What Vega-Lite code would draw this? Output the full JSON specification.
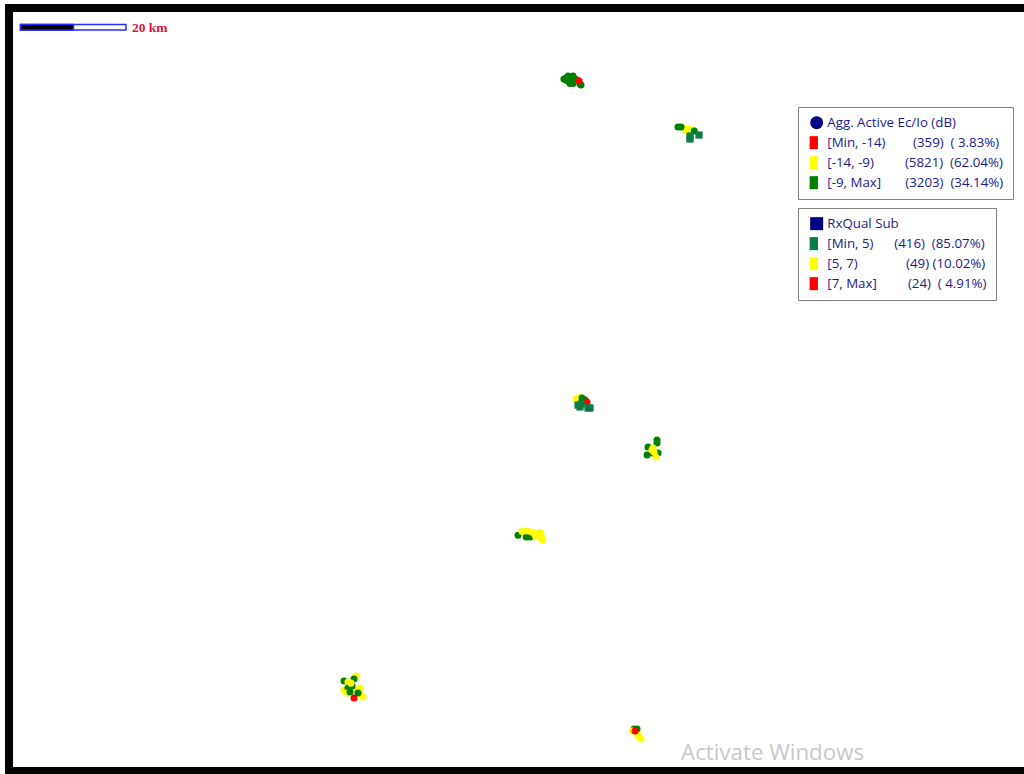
{
"$schema":"https://vega.github.io/schema/vega-lite/v6.json",
"width":1024,"height":774,"padding":0,
"autosize":{"type":"fit","contains":"padding"},
"background":"white",
"view":{"stroke":null},
"datasets":{
"ecio":[
{"x":106.4,"y":14.91,"c":"g"},{"x":106.79,"y":14.72,"c":"g"},{"x":107.36,"y":14.53,"c":"g"},{"x":107.92,"y":14.53,"c":"g"},{"x":108.49,"y":14.91,"c":"g"},{"x":107.17,"y":15.28,"c":"g"},{"x":107.74,"y":15.47,"c":"g"},{"x":108.11,"y":15.28,"c":"g"},{"x":106.79,"y":15.09,"c":"g"},{"x":108.87,"y":15.09,"c":"g"},{"x":107.55,"y":15.75,"c":"g"},{"x":108.11,"y":15.75,"c":"g"},{"x":107.17,"y":14.35,"c":"g"},{"x":108.11,"y":14.35,"c":"g"},{"x":109.43,"y":15.85,"c":"g"},{"x":109.62,"y":16.04,"c":"g"},{"x":109.25,"y":15.28,"c":"r"},
{"x":129.06,"y":24.15,"c":"y"},{"x":130.0,"y":24.34,"c":"y"},{"x":130.75,"y":24.53,"c":"y"},{"x":129.43,"y":24.72,"c":"y"},{"x":130.38,"y":24.91,"c":"y"},{"x":127.92,"y":23.96,"c":"g"},{"x":128.49,"y":23.96,"c":"g"},{"x":131.0,"y":24.72,"c":"g"},
{"x":108.68,"y":75.28,"c":"y"},{"x":109.43,"y":74.9,"c":"y"},{"x":109.81,"y":75.09,"c":"g"},{"x":110.38,"y":75.47,"c":"g"},{"x":110.75,"y":75.85,"c":"r"},
{"x":123.96,"y":83.02,"c":"g"},{"x":123.96,"y":83.58,"c":"g"},{"x":122.26,"y":84.34,"c":"g"},{"x":122.08,"y":85.85,"c":"g"},{"x":123.02,"y":85.47,"c":"g"},{"x":124.15,"y":85.47,"c":"g"},{"x":123.21,"y":84.53,"c":"y"},{"x":123.02,"y":84.91,"c":"y"},{"x":123.4,"y":85.3,"c":"y"},{"x":123.77,"y":86.23,"c":"y"},
{"x":97.74,"y":101.0,"c":"g"},{"x":99.3,"y":101.3,"c":"g"},{"x":100.0,"y":101.3,"c":"g"},{"x":98.5,"y":100.3,"c":"y"},{"x":99.4,"y":100.2,"c":"y"},{"x":100.3,"y":100.4,"c":"y"},{"x":101.4,"y":100.8,"c":"g"},{"x":101.0,"y":100.7,"c":"y"},{"x":101.9,"y":100.5,"c":"y"},{"x":101.0,"y":101.1,"c":"y"},{"x":102.2,"y":101.3,"c":"y"},{"x":102.3,"y":101.9,"c":"y"},{"x":101.9,"y":101.1,"c":"y"},
{"x":67.17,"y":127.55,"c":"y"},{"x":66.79,"y":128.11,"c":"g"},{"x":64.91,"y":128.49,"c":"g"},{"x":65.66,"y":128.68,"c":"y"},{"x":64.91,"y":130.19,"c":"y"},{"x":65.66,"y":129.81,"c":"g"},{"x":67.36,"y":130.19,"c":"y"},{"x":67.92,"y":129.81,"c":"y"},{"x":66.42,"y":129.43,"c":"g"},{"x":65.47,"y":130.75,"c":"y"},{"x":66.04,"y":130.57,"c":"g"},{"x":66.79,"y":131.7,"c":"r"},{"x":68.0,"y":131.0,"c":"y"},{"x":68.49,"y":131.51,"c":"y"},{"x":67.55,"y":130.75,"c":"g"},{"x":66.2,"y":128.9,"c":"y"},
{"x":119.62,"y":137.55,"c":"g"},{"x":120.19,"y":137.55,"c":"g"},{"x":119.25,"y":137.92,"c":"y"},{"x":120.38,"y":138.68,"c":"y"},{"x":120.57,"y":139.06,"c":"y"},{"x":120.94,"y":139.43,"c":"y"},{"x":119.81,"y":137.92,"c":"r"}
],
"rx":[
{"x":130.19,"y":25.66,"c":"g"},{"x":130.19,"y":26.23,"c":"g"},{"x":131.89,"y":25.47,"c":"g"},
{"x":109.43,"y":76.79,"c":"g"},{"x":109.62,"y":76.23,"c":"g"},{"x":109.06,"y":76.42,"c":"g"},{"x":110.94,"y":76.98,"c":"g"},{"x":111.32,"y":76.98,"c":"g"}
],
"frame":[{"x":1.7,"x2":200,"y":1.51,"y2":145.47}],
"bar":[{"x":3.87,"x2":23.77,"y":4.62,"y2":5.66,"part":"outline"},{"x":3.87,"x2":13.87,"y":4.62,"y2":5.66,"part":"filled"}],
"labels":[{"x":24.9,"y":5.2,"t":"20 km"}],
"mark":[{"x":128.5,"y":142.0,"t":"Activate Windows"}]
},
"layer":[
{"data":{"name":"ecio"},"mark":{"type":"circle","size":50,"opacity":1},
 "encoding":{"x":{"field":"x","type":"quantitative","scale":{"domain":[0,193.2],"nice":false,"zero":false},"axis":null},
 "y":{"field":"y","type":"quantitative","scale":{"domain":[146.04,0],"nice":false,"zero":false},"axis":null},
 "color":{"field":"c","type":"nominal","scale":{"domain":["r","y","g"],"range":["#ff0000","#ffff00","#008000"]},"legend":null}}},
{"data":{"name":"rx"},"mark":{"type":"square","size":52,"opacity":1},
 "encoding":{"x":{"field":"x","type":"quantitative","axis":null},"y":{"field":"y","type":"quantitative","axis":null},
 "color":{"field":"c","type":"nominal","scale":{"domain":["g","y","r"],"range":["#0a7d46","#ffff00","#ff0000"]},"legend":null}}},
{"data":{"name":"bar"},"mark":{"type":"rect","stroke":"#2a2aff","strokeWidth":1.5},
 "encoding":{"x":{"field":"x","type":"quantitative","axis":null},"x2":{"field":"x2"},"y":{"field":"y","type":"quantitative","axis":null},"y2":{"field":"y2"},
 "color":{"field":"part","type":"nominal","scale":{"domain":["outline","filled"],"range":["#ffffff","#000000"]},"legend":null}}},
{"data":{"name":"frame"},"mark":{"type":"rect","fillOpacity":0,"stroke":"#000000","strokeWidth":8,"clip":true},
 "encoding":{"x":{"field":"x","type":"quantitative","axis":null},"x2":{"field":"x2"},"y":{"field":"y","type":"quantitative","axis":null},"y2":{"field":"y2"}}},
{"data":{"name":"labels"},"mark":{"type":"text","align":"left","baseline":"middle","font":"Liberation Serif","fontWeight":"bold","fontSize":13.5,"color":"#dc143c"},
 "encoding":{"x":{"field":"x","type":"quantitative","axis":null},"y":{"field":"y","type":"quantitative","axis":null},"text":{"field":"t"}}},
{"data":{"name":"mark"},"mark":{"type":"text","align":"left","baseline":"middle","font":"Open Sans","fontSize":22.3,"color":"#c8c8c8"},
 "encoding":{"x":{"field":"x","type":"quantitative","axis":null},"y":{"field":"y","type":"quantitative","axis":null},"text":{"field":"t"}}},
{"data":{"values":[{"c":"Agg. Active Ec/Io (dB)"},{"c":"\u00a0[Min, -14)\u00a0\u00a0\u00a0\u00a0\u00a0\u00a0\u00a0\u00a0(359)\u00a0\u00a0( 3.83%)"},{"c":"\u00a0[-14, -9)\u00a0\u00a0\u00a0\u00a0\u00a0\u00a0\u00a0\u00a0\u00a0(5821)\u00a0\u00a0(62.04%)"},{"c":"\u00a0[-9, Max]\u00a0\u00a0\u00a0\u00a0\u00a0\u00a0\u00a0(3203)\u00a0\u00a0(34.14%)"}]},"mark":{"type":"point","filled":true,"opacity":1},
 "encoding":{"x":{"field":"x","type":"quantitative","axis":null},"y":{"field":"y","type":"quantitative","axis":null},
 "color":{"field":"c","type":"nominal","sort":null,"scale":{"domain":["Agg. Active Ec/Io (dB)","\u00a0[Min, -14)\u00a0\u00a0\u00a0\u00a0\u00a0\u00a0\u00a0\u00a0(359)\u00a0\u00a0( 3.83%)","\u00a0[-14, -9)\u00a0\u00a0\u00a0\u00a0\u00a0\u00a0\u00a0\u00a0\u00a0(5821)\u00a0\u00a0(62.04%)","\u00a0[-9, Max]\u00a0\u00a0\u00a0\u00a0\u00a0\u00a0\u00a0(3203)\u00a0\u00a0(34.14%)"],"range":["#000080","#ff0000","#ffff00","#008000"]},
   "legend":{"title":null,"orient":"none","legendX":798,"legendY":107,"padding":9,"strokeColor":"#808080","fillColor":"#ffffff","symbolSize":169,"symbolStrokeWidth":0,"symbolOpacity":1,"labelFont":"Open Sans","labelFontSize":13.3,"labelColor":"#1a1a8c","labelLimit":400,"rowPadding":5,"symbolOffset":3,"labelOffset":4}},
 "shape":{"field":"c","type":"nominal","sort":null,"scale":{"domain":["Agg. Active Ec/Io (dB)","\u00a0[Min, -14)\u00a0\u00a0\u00a0\u00a0\u00a0\u00a0\u00a0\u00a0(359)\u00a0\u00a0( 3.83%)","\u00a0[-14, -9)\u00a0\u00a0\u00a0\u00a0\u00a0\u00a0\u00a0\u00a0\u00a0(5821)\u00a0\u00a0(62.04%)","\u00a0[-9, Max]\u00a0\u00a0\u00a0\u00a0\u00a0\u00a0\u00a0(3203)\u00a0\u00a0(34.14%)"],"range":["circle","M-1.08,-1H0.2V1H-1.08Z","M-1.08,-1H0.2V1H-1.08Z","M-1.08,-1H0.2V1H-1.08Z"]}}}},
{"data":{"values":[{"c":"RxQual Sub"},{"c":"\u00a0[Min, 5)\u00a0\u00a0\u00a0\u00a0\u00a0\u00a0(416)\u00a0\u00a0(85.07%)"},{"c":"\u00a0[5, 7)\u00a0\u00a0\u00a0\u00a0\u00a0\u00a0\u00a0\u00a0\u00a0\u00a0\u00a0\u00a0\u00a0\u00a0(49)\u00a0(10.02%)"},{"c":"\u00a0[7, Max]\u00a0\u00a0\u00a0\u00a0\u00a0\u00a0\u00a0\u00a0\u00a0(24)\u00a0\u00a0( 4.91%)"}]},"mark":{"type":"point","filled":true,"opacity":1},
 "encoding":{"x":{"field":"x","type":"quantitative","axis":null},"y":{"field":"y","type":"quantitative","axis":null},
 "color":{"field":"c","type":"nominal","sort":null,"scale":{"domain":["RxQual Sub","\u00a0[Min, 5)\u00a0\u00a0\u00a0\u00a0\u00a0\u00a0(416)\u00a0\u00a0(85.07%)","\u00a0[5, 7)\u00a0\u00a0\u00a0\u00a0\u00a0\u00a0\u00a0\u00a0\u00a0\u00a0\u00a0\u00a0\u00a0\u00a0(49)\u00a0(10.02%)","\u00a0[7, Max]\u00a0\u00a0\u00a0\u00a0\u00a0\u00a0\u00a0\u00a0\u00a0(24)\u00a0\u00a0( 4.91%)"],"range":["#000080","#0a7d46","#ffff00","#ff0000"]},
   "legend":{"title":null,"orient":"none","legendX":798,"legendY":208,"padding":9,"strokeColor":"#808080","fillColor":"#ffffff","symbolSize":169,"symbolStrokeWidth":0,"symbolOpacity":1,"labelFont":"Open Sans","labelFontSize":13.3,"labelColor":"#1a1a8c","labelLimit":400,"rowPadding":5,"symbolOffset":3,"labelOffset":4}},
 "shape":{"field":"c","type":"nominal","sort":null,"scale":{"domain":["RxQual Sub","\u00a0[Min, 5)\u00a0\u00a0\u00a0\u00a0\u00a0\u00a0(416)\u00a0\u00a0(85.07%)","\u00a0[5, 7)\u00a0\u00a0\u00a0\u00a0\u00a0\u00a0\u00a0\u00a0\u00a0\u00a0\u00a0\u00a0\u00a0\u00a0(49)\u00a0(10.02%)","\u00a0[7, Max]\u00a0\u00a0\u00a0\u00a0\u00a0\u00a0\u00a0\u00a0\u00a0(24)\u00a0\u00a0( 4.91%)"],"range":["square","M-1.08,-1H0.2V1H-1.08Z","M-1.08,-1H0.2V1H-1.08Z","M-1.08,-1H0.2V1H-1.08Z"]}}}}
],
"resolve":{"scale":{"color":"independent","shape":"independent"},"legend":{"color":"independent","shape":"independent"}}
}
